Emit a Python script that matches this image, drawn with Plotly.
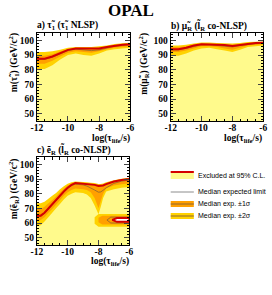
import plotly.graph_objects as go

W, H = 272, 295

# ---------------- data ----------------
# panel a: stau (stau NLSP)
x_a = [-12, -11.5, -11, -10.5, -10, -9.5, -9, -8.5, -8, -7.5, -7, -6.5, -6]
obs_a = [87.5, 87.5, 89, 91.5, 93.5, 94.5, 94.5, 94, 94.5, 95.5, 96.5, 97, 97.3]
exp_a = [87, 87, 88.5, 91, 93, 94, 93.5, 93, 93.5, 95, 96, 96.5, 97]
hi1_a = [89.5, 89.5, 90.5, 92.5, 94, 95, 95, 94.5, 95, 96, 97, 97.5, 97.8]
lo1_a = [84, 84, 86, 89, 91.5, 92.5, 92, 91.5, 92.5, 94, 95, 95.5, 96]
hi2_a = [92, 92, 92.5, 93.5, 95, 95.5, 95.5, 95.5, 96, 96.5, 97.5, 98, 98.3]
lo2_a = [80.5, 80.5, 83, 87, 90, 91, 90, 89.5, 91, 93, 94, 94.5, 95]

# panel b: smuon (slepton co-NLSP)
x_b = [-12, -11.5, -11, -10.5, -10, -9.5, -9, -8.5, -8, -7.5, -7, -6.5, -6]
obs_b = [94, 94, 95, 96.5, 97.3, 97.3, 97, 96.8, 96.2, 97, 97.8, 98.2, 98.4]
exp_b = [93.5, 93.5, 94.5, 96, 97, 97, 96.5, 96, 95.5, 96.5, 97.3, 97.7, 98]
hi1_b = [95.5, 95.5, 96, 97, 97.8, 97.8, 97.5, 97.2, 97, 97.5, 98.2, 98.5, 98.7]
lo1_b = [92, 92, 93, 94.5, 96, 96, 95.5, 94.5, 93.5, 95, 96.5, 97, 97.3]
hi2_b = [96.5, 96.5, 97, 97.8, 98.5, 98.5, 98.2, 98, 97.8, 98.2, 98.8, 99, 99.2]
lo2_b = [89.5, 89.5, 91, 93, 94.5, 95, 94, 93, 92, 93.5, 95.5, 96, 96.5]

# panel c: selectron (slepton co-NLSP)
x_c = [-12, -11.75, -11.5, -11.25, -11, -10.75, -10.5, -10.25, -10, -9.75, -9.5,
       -9, -8.75, -8.5, -8.25, -8, -7.85, -7.7, -7.5, -7, -6.5, -6]
obs_c = [65, 65, 67, 70, 72.5, 75.5, 79, 81.5, 84, 86, 87.2,
         86.8, 86.5, 86.3, 86, 85.3, 85.2, 85.6, 86.5, 88.3, 89.3, 90]
exp_c = [64.5, 64.5, 66.5, 69.5, 72, 75, 78.5, 81, 83.5, 85.5, 86.5,
         86, 85.2, 84, 82.5, 81, 81.2, 82.3, 84, 87, 88.5, 89.3]
hi1_c = [69.5, 69.5, 71, 73.5, 75.5, 78, 81, 83.5, 85.5, 87, 87.8,
         87.5, 87.3, 87, 86.6, 86, 86, 86.4, 87.2, 88.8, 89.8, 90.4]
lo1_c = [61.5, 62, 64, 67, 69.5, 72.5, 75.5, 78.5, 81, 82.5, 83.5,
         83, 82.5, 81, 77, 70, 75, 80, 83.5, 85.5, 86.5, 87]
hi2_c = [73.5, 73.5, 74.5, 76.5, 78.5, 80.5, 83, 85, 86.8, 87.8, 88.3,
         88, 87.8, 87.5, 87.2, 86.6, 86.6, 87, 87.8, 89.2, 90.2, 90.8]
lo2_c = [58, 58.5, 61, 64, 67, 70, 73, 76, 78.5, 80, 81,
         80.5, 79.5, 77, 72, 66, 71, 77, 81.5, 83, 84, 84.5]
# secondary band / island near m = 62 GeV
bar2_x = [-6, -8.0, -8.25, -8.25, -8.0, -6]
bar2_y = [57.5, 57.5, 59.5, 64, 66.2, 66.2]
bar1_x = [-6, -7.75, -8.0, -8.0, -7.75, -6]
bar1_y = [59, 59, 60.5, 63.5, 65, 65]
loop_x = [-6, -7.2, -7.45, -7.2, -6]
loop_y = [64, 64, 62, 60, 60]
hole_x = [-6, -6.8, -7.1, -6.8, -6]
hole_y = [63.4, 63.4, 62.1, 60.8, 60.8]

y_min, y_max = 45, 105
x_ticks = [-12, -10, -8, -6]
x_tick_labels = ["-12", "-10", "-8", "-6"]
y_ticks = [50, 60, 70, 80, 90, 100]

# ---------------- style ----------------
C_EXCL = "#FFFA8C"
C_2S = "#FFD200"
C_1S = "#FFA000"
C_OBS = "#D40000"
C_EXP = "#8C6432"
SERIF = "Liberation Serif"
SANS = "Liberation Sans"

fig = go.Figure()


def band(xs, hi, lo, color, xa, ya):
    fig.add_trace(go.Scatter(
        x=list(xs) + list(xs)[::-1], y=list(hi) + list(lo)[::-1],
        fill="toself", fillcolor=color, mode="none",
        xaxis=xa, yaxis=ya, showlegend=False, hoverinfo="skip"))


def poly(xs, ys, fillcolor, xa, ya, line=None):
    fig.add_trace(go.Scatter(
        x=xs + xs[:1], y=ys + ys[:1], fill="toself", fillcolor=fillcolor,
        mode="lines" if line else "none",
        line=line if line else None,
        xaxis=xa, yaxis=ya, showlegend=False, hoverinfo="skip"))


def line(xs, ys, color, width, xa, ya):
    fig.add_trace(go.Scatter(x=xs, y=ys, mode="lines",
                             line=dict(color=color, width=width),
                             xaxis=xa, yaxis=ya, showlegend=False,
                             hoverinfo="skip"))


def panel(xs, obs, exp, hi1, lo1, hi2, lo2, xa, ya, extra=None):
    band(xs, obs, [y_min] * len(xs), C_EXCL, xa, ya)
    band(xs, hi2, lo2, C_2S, xa, ya)
    if extra:
        poly(bar2_x, bar2_y, C_2S, xa, ya)
    band(xs, hi1, lo1, C_1S, xa, ya)
    if extra:
        poly(bar1_x, bar1_y, C_1S, xa, ya)
    line(xs, exp, C_EXP, 0.8, xa, ya)
    if extra:
        line(loop_x, loop_y, C_EXP, 0.8, xa, ya)
        poly(hole_x, hole_y, "white", xa, ya,
             line=dict(color=C_OBS, width=2))
    line(xs, obs, C_OBS, 2, xa, ya)


panel(x_a, obs_a, exp_a, hi1_a, lo1_a, hi2_a, lo2_a, "x", "y")
panel(x_b, obs_b, exp_b, hi1_b, lo1_b, hi2_b, lo2_b, "x2", "y2")
panel(x_c, obs_c, exp_c, hi1_c, lo1_c, hi2_c, lo2_c, "x3", "y3", extra=True)


def px(v):
    return v / W


def py(v):
    return 1 - v / H


tickfont = dict(family=SERIF, size=9.5, color="black", weight="bold")
common_x = dict(range=[-12, -6], tickvals=x_ticks, ticktext=x_tick_labels,
                ticks="inside", ticklen=5, mirror="allticks", showline=True,
                linecolor="black", linewidth=1, showgrid=False, zeroline=False,
                tickfont=tickfont, ticklabelstandoff=-2,
                minor=dict(ticks="inside", ticklen=2.5, dtick=0.5,
                           tickcolor="black", showgrid=False))
common_y = dict(range=[y_min, y_max], tickvals=y_ticks,
                ticks="inside", ticklen=5, mirror="allticks", showline=True,
                linecolor="black", linewidth=1, showgrid=False, zeroline=False,
                tickfont=tickfont,
                minor=dict(ticks="inside", ticklen=2.5, dtick=2,
                           tickcolor="black", showgrid=False))

fig.update_layout(
    width=W, height=H, margin=dict(l=0, r=0, t=0, b=0),
    paper_bgcolor="white", plot_bgcolor="white", showlegend=False,
    xaxis=dict(domain=[px(32), px(129)], anchor="y", **common_x),
    yaxis=dict(domain=[py(121), py(33)], anchor="x", **common_y),
    xaxis2=dict(domain=[px(171), px(267)], anchor="y2", **common_x),
    yaxis2=dict(domain=[py(121), py(33)], anchor="x2", **common_y),
    xaxis3=dict(domain=[px(32), px(128)], anchor="y3", **common_x),
    yaxis3=dict(domain=[py(245), py(157)], anchor="x3", **common_y),
)

ann = []


def text(x, y, s, size, xanchor="left", yanchor="middle", angle=0,
         family=SERIF, weight="bold"):
    ann.append(dict(x=px(x), y=py(y), xref="paper", yref="paper", text=s,
                    showarrow=False, xanchor=xanchor, yanchor=yanchor,
                    textangle=angle, borderpad=0,
                    font=dict(family=family, size=size, color="black",
                              weight=weight)))


text(130, 10, "OPAL", 17, xanchor="center")
text(31, 25, "a) τ̃<sub>1</sub> (τ̃<sub>1</sub> NLSP)", 9.5)
text(170, 25, "b) μ̃<sub>R</sub> (l̃<sub>R</sub> co-NLSP)", 9.5)
text(31, 149, "c) ẽ<sub>R</sub> (l̃<sub>R</sub> co-NLSP)", 9.5)

text(8, 32, "m(τ̃<sub>1</sub>) (GeV/c<sup>2</sup>)", 9.5, xanchor="center",
     yanchor="top", angle=-90)
text(143, 32, "m(μ̃<sub>R</sub>) (GeV/c<sup>2</sup>)", 9.5, xanchor="center",
     yanchor="top", angle=-90)
text(8, 157, "m(ẽ<sub>R</sub>) (GeV/c<sup>2</sup>)", 9.5, xanchor="center",
     yanchor="top", angle=-90)

text(130, 138, "log(τ<sub>life</sub>/s)", 9.5, xanchor="right")
text(267, 138, "log(τ<sub>life</sub>/s)", 9.5, xanchor="right")
text(129, 261, "log(τ<sub>life</sub>/s)", 9.5, xanchor="right")

# legend (drawn as shapes + text)
shapes = []


def rect(x0, y0, x1, y1, color):
    shapes.append(dict(type="rect", xref="paper", yref="paper",
                       x0=px(x0), x1=px(x1), y0=py(y1), y1=py(y0),
                       fillcolor=color, line=dict(width=0)))


def hline(x0, x1, y, color, width):
    shapes.append(dict(type="line", xref="paper", yref="paper",
                       x0=px(x0), x1=px(x1), y0=py(y), y1=py(y),
                       line=dict(color=color, width=width)))


rect(171, 171, 195, 179, C_EXCL)
hline(171, 195, 172, C_OBS, 2)
hline(171, 195, 192, "#8C8C8C", 1)
rect(171, 201, 195, 207, C_1S)
hline(171, 195, 204, C_EXP, 1)
rect(171, 213, 195, 219, C_2S)
hline(171, 195, 216, C_EXP, 1)

LEG = 7
text(198, 175, "Excluded at 95% C.L.", LEG, family=SANS, weight="normal")
text(198, 192, "Median expected limit", LEG, family=SANS, weight="normal")
text(198, 204, "Median exp. ±1σ", LEG, family=SANS, weight="normal")
text(198, 216, "Median exp. ±2σ", LEG, family=SANS, weight="normal")

fig.update_layout(annotations=ann, shapes=shapes)
fig.write_html("out.html",
               config={"displayModeBar": False},
               post_script="document.body.style.margin='0';")
